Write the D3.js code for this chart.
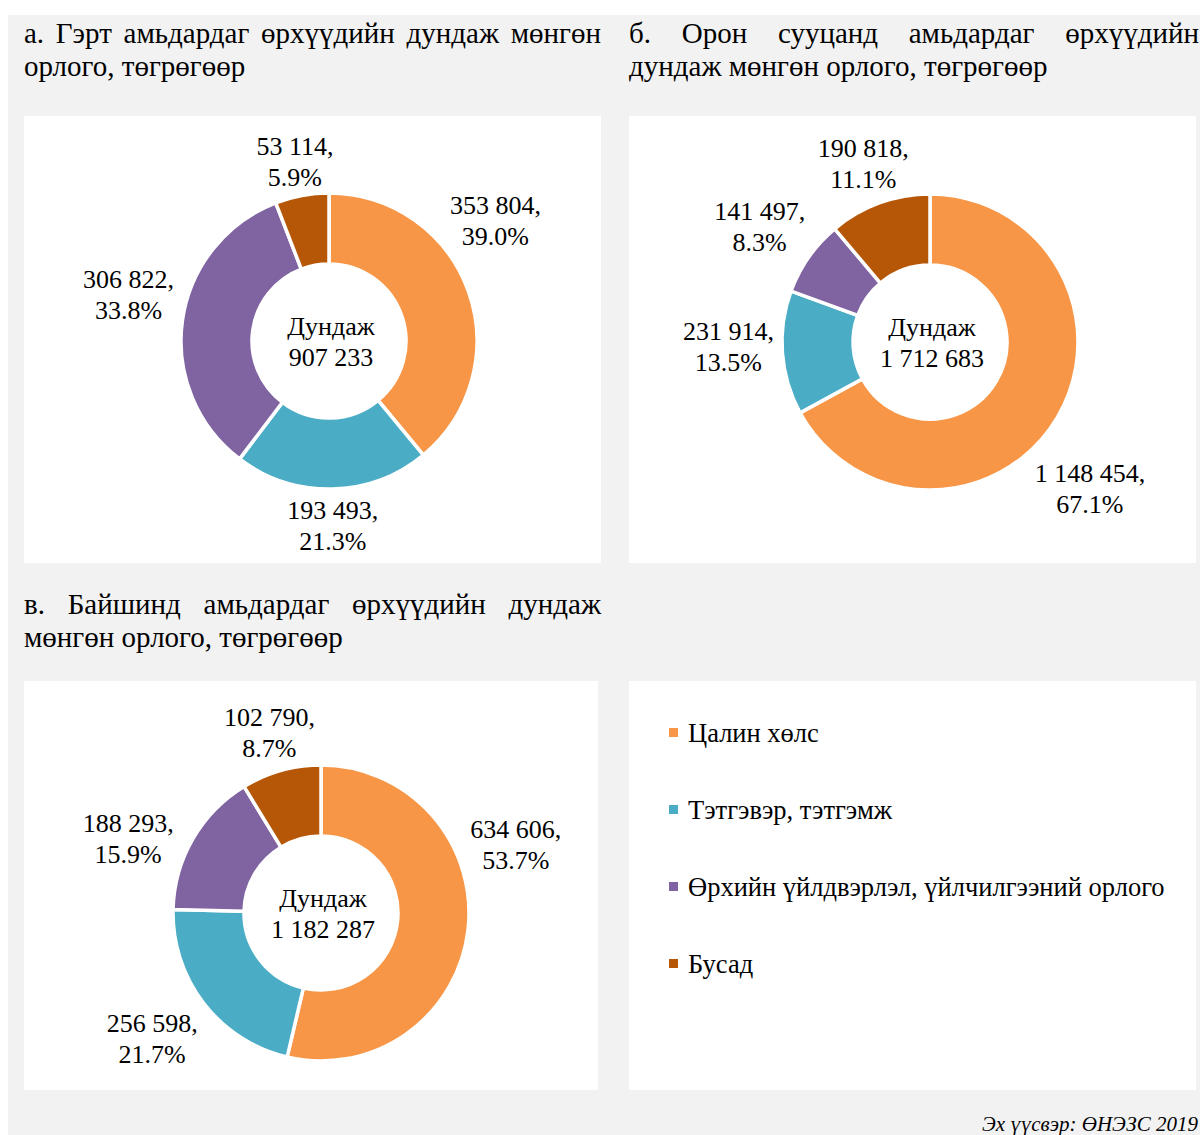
<!DOCTYPE html>
<html>
<head>
<meta charset="utf-8">
<script src="https://cdn.jsdelivr.net/npm/d3@7"></script>
<style>
  body { margin: 0; background: #fff; }
</style>
</head>
<body>
<div id="chart"></div>
<script>
// Categories (legend order, also slice order clockwise from 12 o'clock).
const categories = ['Цалин хөлс', 'Тэтгэвэр, тэтгэмж', 'Өрхийн үйлдвэрлэл, үйлчилгээний орлого', 'Бусад'];
const colours = ['#F79646', '#4BACC6', '#8064A2', '#B65708'];

// Average household money income by dwelling type, MNT.
const gerValues = [353804, 193493, 306822, 53114];
const apartmentValues = [1148454, 231914, 141497, 190818];
const houseValues = [634606, 256598, 188293, 102790];

const gerTitle = ['а. Гэрт амьдардаг өрхүүдийн дундаж мөнгөн', 'орлого, төгрөгөөр'];
const apartmentTitle = ['б. Орон сууцанд амьдардаг өрхүүдийн', 'дундаж мөнгөн орлого, төгрөгөөр'];
const houseTitle = ['в. Байшинд амьдардаг өрхүүдийн дундаж', 'мөнгөн орлого, төгрөгөөр'];
const centerLabel = 'Дундаж';
const sourceNote = 'Эх үүсвэр: ӨНЭЗС 2019';

// Layout.
const width = 1200;
const height = 1135;
const outerR = 148;
const innerR = 77;
const titleSize = 29;
const labelSize = 26;
const lineH = 31;
const serif = "'Liberation Serif', 'DejaVu Serif', serif";

const fmt = d3.formatLocale({ decimal: '.', thousands: ' ', grouping: [3] });
const num = fmt.format(',d');
const pct = fmt.format('.1%');

const svg = d3.select('#chart')
  .append('svg')
  .attr('width', width)
  .attr('height', height)
  .attr('font-family', serif)
  .attr('font-size', labelSize);

// Page background.
svg.append('rect')
  .attr('x', 8).attr('y', 15)
  .attr('width', width - 8).attr('height', height - 15)
  .attr('fill', '#f2f2f2');

// Label angle nudges (degrees) where the original labels were dragged off mid-angle.
const panels = [
  { values: gerValues, title: gerTitle, tx: 24, tw: 577, ty: 43,
    box: [24, 116, 577, 447], cx: 329, cy: 341, nudge: [-17, 0, 6, 0] },
  { values: apartmentValues, title: apartmentTitle, tx: 629, tw: 570, ty: 43,
    box: [629, 116, 567, 447], cx: 930, cy: 342, nudge: [11, 4, 0, 0] },
  { values: houseValues, title: houseTitle, tx: 24, tw: 577, ty: 614,
    box: [24, 681, 574, 409], cx: 321, cy: 913, nudge: [-27, 2, -8, 0] }
];

// Justified first line, left-aligned second line.
function drawTitle(p) {
  const g = svg.append('g').attr('font-size', titleSize);
  const words = p.title[0].split(' ');
  const widths = words.map(w => {
    const t = g.append('text').text(w);
    const len = t.node().getComputedTextLength();
    t.remove();
    return len;
  });
  const gap = (p.tw - d3.sum(widths)) / (words.length - 1);
  let x = p.tx;
  words.forEach((w, i) => {
    g.append('text')
      .attr('x', x).attr('y', p.ty)
      .text(w);
    x += widths[i] + gap;
  });
  g.append('text')
    .attr('x', p.tx).attr('y', p.ty + 33)
    .text(p.title[1]);
}

const pie = d3.pie().sort(null).value(d => d);
const arc = d3.arc().innerRadius(innerR).outerRadius(outerR);

panels.forEach(p => {
  drawTitle(p);

  svg.append('rect')
    .attr('x', p.box[0]).attr('y', p.box[1])
    .attr('width', p.box[2]).attr('height', p.box[3])
    .attr('fill', '#fff');

  const total = d3.sum(p.values);
  const g = svg.append('g').attr('transform', `translate(${p.cx},${p.cy})`);
  const arcs = pie(p.values);

  g.selectAll('path')
    .data(arcs)
    .join('path')
    .attr('d', arc)
    .attr('fill', (d, i) => colours[i])
    .attr('stroke', '#fff')
    .attr('stroke-width', 3.5);

  // Data labels outside the ring, along each slice's mid angle.
  arcs.forEach((d, i) => {
    const line1 = num(d.data) + ',';
    const line2 = pct(d.data / total);
    const lbl = g.append('g');
    const t1 = lbl.append('text').attr('text-anchor', 'middle').text(line1);
    const t2 = lbl.append('text').attr('text-anchor', 'middle').text(line2);
    const hw = Math.max(t1.node().getComputedTextLength(), t2.node().getComputedTextLength()) / 2;
    const hh = lineH - 4;
    const a = (d.startAngle + d.endAngle) / 2 + p.nudge[i] * Math.PI / 180;
    const s = Math.sin(a), c = -Math.cos(a);
    const dist = outerR + 4 + Math.abs(s) * (hw + 4) + Math.abs(c) * hh;
    const x = s * dist, y = c * dist + 4;
    t1.attr('x', x).attr('y', y - lineH / 2 + 9);
    t2.attr('x', x).attr('y', y + lineH / 2 + 9);
  });

  g.append('text')
    .attr('text-anchor', 'middle')
    .attr('x', 2).attr('y', -6)
    .text(centerLabel);
  g.append('text')
    .attr('text-anchor', 'middle')
    .attr('x', 2).attr('y', 25)
    .text(num(total));
});

// Legend panel.
svg.append('rect')
  .attr('x', 629).attr('y', 681)
  .attr('width', 567).attr('height', 409)
  .attr('fill', '#fff');

const legendY = d3.scalePoint().domain(categories).range([733, 964]);
const legend = svg.append('g')
  .selectAll('g')
  .data(categories)
  .join('g')
  .attr('transform', d => `translate(669,${legendY(d)})`);

legend.append('rect')
  .attr('x', 0).attr('y', -5)
  .attr('width', 9).attr('height', 9)
  .attr('fill', (d, i) => colours[i]);

legend.append('text')
  .attr('x', 19).attr('y', 9)
  .attr('font-size', 26.5)
  .text(d => d);

svg.append('text')
  .attr('x', 1198).attr('y', 1131)
  .attr('text-anchor', 'end')
  .attr('font-size', 21)
  .attr('font-style', 'italic')
  .text(sourceNote);
</script>
</body>
</html>
